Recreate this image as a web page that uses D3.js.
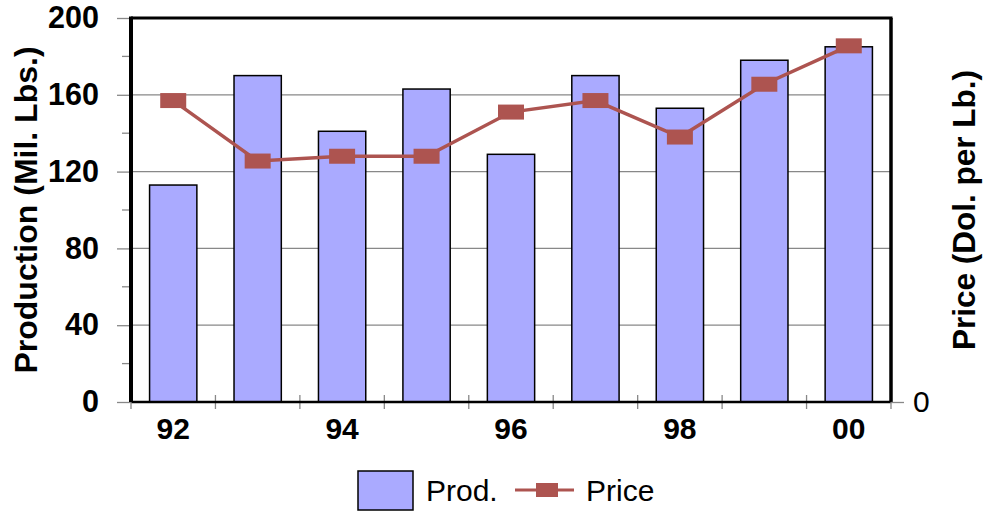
<!DOCTYPE html>
<html>
<head>
<meta charset="utf-8">
<script src="https://cdn.jsdelivr.net/npm/d3@7"></script>
<style>
  body { margin: 0; background: #fff; }
  svg { display: block; font-family: "Liberation Sans", Arial, sans-serif; }
</style>
</head>
<body>
<svg class="grafico" width="987" height="514"></svg>
<script>
// dados
const anos     = ["92", "93", "94", "95", "96", "97", "98", "99", "00"];
const producao = [113, 170, 141, 163, 129, 170, 153, 178, 185];
const preco    = [1.57, 1.255, 1.28, 1.28, 1.51, 1.57, 1.38, 1.655, 1.855];
const ticks_prod  = [0, 40, 80, 120, 160, 200];
const rotulos_ano = ["92", "94", "96", "98", "00"];

const W = 987, H = 514;
const M = { left: 131, right: 891, top: 18, bottom: 402 };

const $svg = d3.select(".grafico");

const x = d3.scaleBand()
    .domain(anos)
    .range([M.left, M.right])
    .paddingInner(0.44)
    .paddingOuter(0.22);

const xBand = d3.scaleBand().domain(anos).range([M.left, M.right]);

const y = d3.scaleLinear().domain([0, 200]).range([M.bottom, M.top]);
const yPreco = d3.scaleLinear().domain([0, 2]).range([M.bottom, M.top]);

const COR_BARRA = "#aaaaff";
const COR_PRECO = "#ad5450";
const CINZA = "#888";

// gridlines
$svg.append("g")
    .selectAll("line")
    .data(ticks_prod.filter(d => d > 0 && d < 200))
    .join("line")
    .attr("x1", M.left).attr("x2", M.right)
    .attr("y1", d => y(d)).attr("y2", d => y(d))
    .attr("stroke", CINZA).attr("stroke-width", 1.3);

// eixo y esquerdo: ticks maiores e menores
const eixoY = d3.axisLeft(y).tickValues(ticks_prod).tickSize(14).tickPadding(18);
const gY = $svg.append("g").attr("transform", `translate(${M.left},0)`).call(eixoY);
gY.select(".domain").remove();
gY.selectAll(".tick line").attr("stroke", CINZA).attr("stroke-width", 1.3);
gY.selectAll(".tick text")
    .attr("font-size", 30.5).attr("font-weight", "bold").attr("fill", "#000")
    .attr("font-family", "Liberation Sans, Arial, sans-serif");

const menores = d3.range(20, 200, 40);
$svg.append("g")
    .selectAll("line")
    .data(menores)
    .join("line")
    .attr("x1", M.left - 9).attr("x2", M.left)
    .attr("y1", d => y(d)).attr("y2", d => y(d))
    .attr("stroke", CINZA).attr("stroke-width", 1.3);

// eixo x: ticks cruzando a linha base
$svg.append("g")
    .selectAll("line")
    .data(anos.slice(1))
    .join("line")
    .attr("x1", d => xBand(d)).attr("x2", d => xBand(d))
    .attr("y1", M.bottom - 7).attr("y2", M.bottom + 7)
    .attr("stroke", CINZA).attr("stroke-width", 1.3);

// barras
$svg.append("g")
    .selectAll("rect")
    .data(anos)
    .join("rect")
    .attr("x", d => x(d))
    .attr("width", x.bandwidth())
    .attr("y", (d, i) => y(producao[i]))
    .attr("height", (d, i) => y(0) - y(producao[i]))
    .attr("fill", COR_BARRA)
    .attr("stroke", "#000")
    .attr("stroke-width", 1.5);

// moldura do gráfico
$svg.append("line").attr("x1", M.left).attr("x2", M.right + 1.5)
    .attr("y1", M.top).attr("y2", M.top).attr("stroke", "#000").attr("stroke-width", 3);
$svg.append("line").attr("x1", M.right).attr("x2", M.right)
    .attr("y1", M.top).attr("y2", M.bottom).attr("stroke", "#000").attr("stroke-width", 3.5);
$svg.append("line").attr("x1", M.left).attr("x2", M.right)
    .attr("y1", M.bottom).attr("y2", M.bottom).attr("stroke", "#000").attr("stroke-width", 2.5);
$svg.append("line").attr("x1", M.left).attr("x2", M.left)
    .attr("y1", M.top - 1.5).attr("y2", M.bottom).attr("stroke", "#000").attr("stroke-width", 4);

// cruzes nos cantos inferiores
$svg.append("line").attr("x1", M.left).attr("x2", M.left)
    .attr("y1", M.bottom).attr("y2", M.bottom + 7).attr("stroke", CINZA).attr("stroke-width", 1.3);
$svg.append("line").attr("x1", M.right).attr("x2", M.right)
    .attr("y1", M.bottom).attr("y2", M.bottom + 7).attr("stroke", CINZA).attr("stroke-width", 1.3);

// eixo y direito (preço): só o zero
const eixoP = d3.axisRight(yPreco).tickValues([0]).tickSize(13).tickPadding(9).tickFormat(d3.format("d"));
const gP = $svg.append("g").attr("transform", `translate(${M.right},0)`).call(eixoP);
gP.select(".domain").remove();
gP.selectAll(".tick line").attr("stroke", CINZA).attr("stroke-width", 1.3);
gP.selectAll(".tick text")
    .attr("font-size", 30).attr("fill", "#000")
    .attr("font-family", "Liberation Sans, Arial, sans-serif");

// rótulos do eixo x
$svg.append("g")
    .selectAll("text")
    .data(rotulos_ano)
    .join("text")
    .attr("x", d => xBand(d) + xBand.bandwidth() / 2)
    .attr("y", 439)
    .attr("text-anchor", "middle")
    .attr("font-size", 30)
    .attr("font-weight", "bold")
    .text(d => d);

// linha de preço
const linha = d3.line()
    .x((d, i) => x(anos[i]) + x.bandwidth() / 2)
    .y(d => yPreco(d));

$svg.append("path")
    .datum(preco)
    .attr("d", linha)
    .attr("fill", "none")
    .attr("stroke", COR_PRECO)
    .attr("stroke-width", 3.5);

$svg.append("g")
    .selectAll("rect")
    .data(preco)
    .join("rect")
    .attr("x", (d, i) => x(anos[i]) + x.bandwidth() / 2 - 13)
    .attr("y", d => yPreco(d) - 7.5)
    .attr("width", 26)
    .attr("height", 15)
    .attr("fill", COR_PRECO);

// títulos dos eixos
$svg.append("text")
    .attr("transform", `translate(37,${(M.top + M.bottom) / 2}) rotate(-90)`)
    .attr("text-anchor", "middle")
    .attr("font-size", 32)
    .attr("font-weight", "bold")
    .text("Production (Mil. Lbs.)");

$svg.append("text")
    .attr("transform", `translate(975,${(M.top + M.bottom) / 2}) rotate(-90)`)
    .attr("text-anchor", "middle")
    .attr("font-size", 31.5)
    .attr("font-weight", "bold")
    .text("Price (Dol. per Lb.)");

// legenda
const $leg = $svg.append("g");
$leg.append("rect")
    .attr("x", 358).attr("y", 471).attr("width", 55).attr("height", 39)
    .attr("fill", COR_BARRA).attr("stroke", "#000").attr("stroke-width", 1.5);
$leg.append("text")
    .attr("x", 426).attr("y", 501)
    .attr("font-size", 30)
    .text("Prod.");
$leg.append("line")
    .attr("x1", 515).attr("x2", 574).attr("y1", 490).attr("y2", 490)
    .attr("stroke", COR_PRECO).attr("stroke-width", 3);
$leg.append("rect")
    .attr("x", 536).attr("y", 483).attr("width", 22).attr("height", 14)
    .attr("fill", COR_PRECO);
$leg.append("text")
    .attr("x", 586).attr("y", 501)
    .attr("font-size", 30)
    .text("Price");
</script>
</body>
</html>
